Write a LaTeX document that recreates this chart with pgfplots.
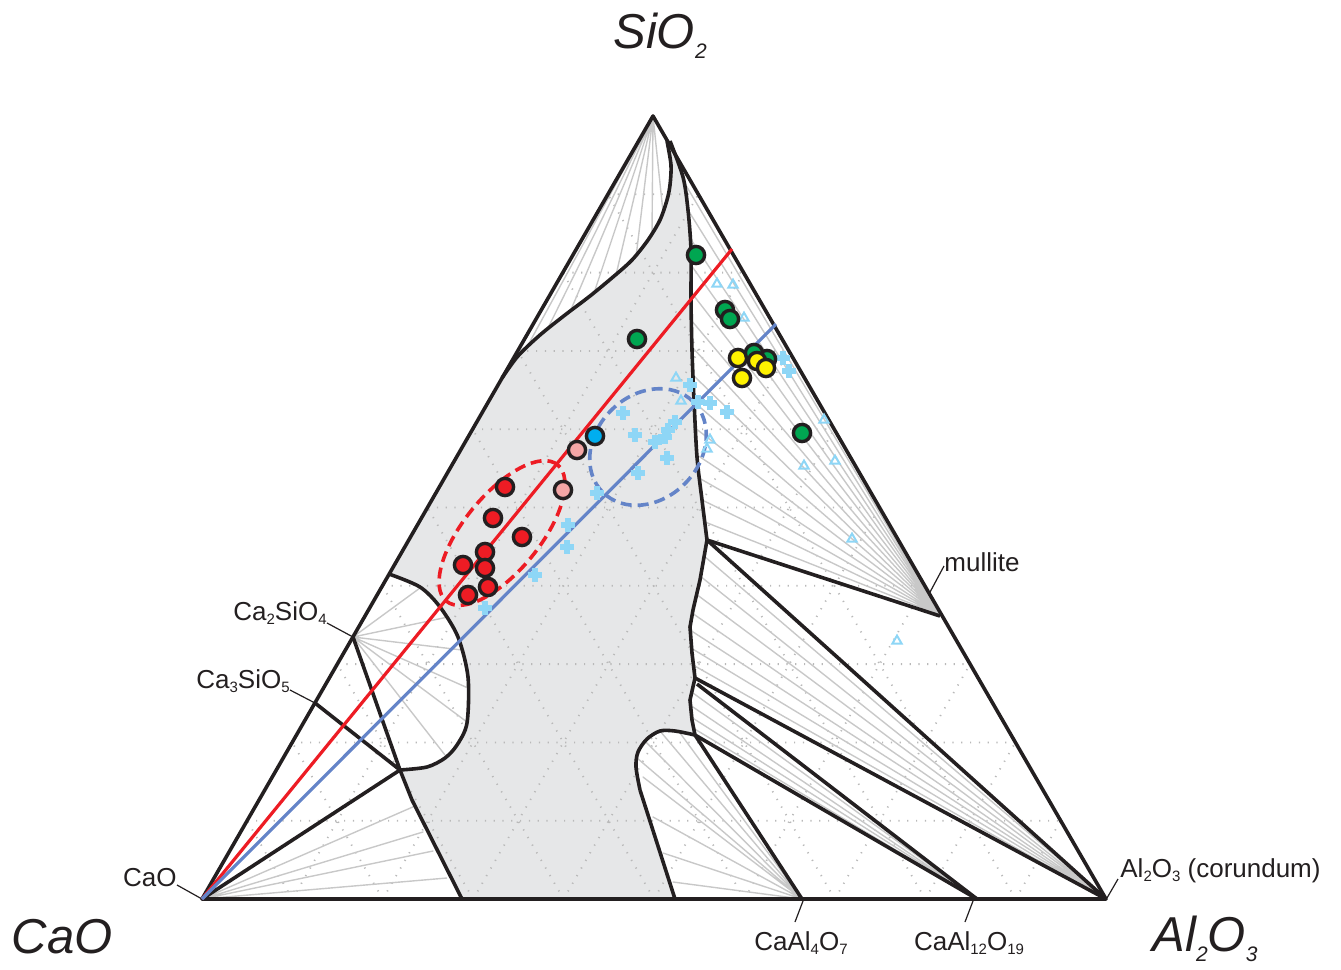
\documentclass[border=0pt]{standalone}
\usepackage{fontspec}
\setmainfont{Liberation Sans}
\usepackage{pgfplots}
\pgfplotsset{compat=1.18}
\definecolor{ink}{RGB}{35,31,32}
\definecolor{greyfill}{RGB}{230,231,232}
\definecolor{tiec}{RGB}{200,200,200}
\definecolor{gridc}{RGB}{185,185,185}
\definecolor{redc}{RGB}{237,28,36}
\definecolor{bluec}{RGB}{100,132,200}
\definecolor{pinkc}{RGB}{244,166,166}
\definecolor{cyanc}{RGB}{0,174,239}
\definecolor{greenc}{RGB}{0,166,81}
\definecolor{yellowc}{RGB}{255,242,0}
\definecolor{ltblue}{RGB}{142,214,246}
\newcommand{\ssub}[1]{\raisebox{-2pt}{\fontsize{7.5}{8}\selectfont #1}}
\newcommand{\bsub}[1]{\raisebox{-5pt}{\fontsize{10.5}{10}\selectfont #1}}
\pgfplotsset{blk/.style={ink, line width=1.8pt, line join=round}}
\begin{document}
\begin{tikzpicture}
\begin{axis}[scale only axis, width=670.5pt, height=485pt,
  xmin=0, xmax=1341, ymin=0, ymax=970, y dir=reverse,
  hide axis, clip=false, unbounded coords=jump]
\addplot[draw=none, forget plot] coordinates {(0,0) (1341,970)};
% liquid field (grey)
\addplot[fill=greyfill, draw=none] coordinates {
(667,141) (671,165) (670,185) (667,200) (660,220) (648,240) (632,260) (613,277) (590,296) (565,315) (540,335) (518,356) (502,378)
(389,574) (420,587) (440,607) (458,637) (468,677) (467,723) (457,745) (445,758) (427,767) (400,770)
(412,800) (462,899) (675,899)
(640,790) (636,767) (638,752) (647,739) (660,731) (675,731) (695,735)
(692,720) (690,700) (695,678) (692,653) (690,627) (693,610) (700,580) (707,540)
(702,500) (697,457) (694,400) (692,350) (691,300) (691,250) (688,210) (683,177) (670,141)};
% dotted grid
\addplot[gridc, line width=0.9pt, dash pattern=on 0.6pt off 3.8pt] coordinates {
(247.2,820.7) (1060.8,820.7) (nan,nan) (292.4,742.4) (1015.6,742.4) (nan,nan)
(337.6,664.1) (970.4,664.1) (nan,nan) (382.8,585.8) (925.2,585.8) (nan,nan)
(428,507.5) (880,507.5) (nan,nan) (473.2,429.2) (834.8,429.2) (nan,nan)
(518.4,350.9) (789.6,350.9) (nan,nan) (563.6,272.6) (744.4,272.6) (nan,nan)
(608.8,194.3) (699.2,194.3) (nan,nan)
(292.4,899) (698.3,194.3) (nan,nan) (382.8,899) (743.6,272.6) (nan,nan)
(473.2,899) (788.9,350.9) (nan,nan) (563.6,899) (834.2,429.2) (nan,nan)
(654,899) (879.5,507.5) (nan,nan) (744.4,899) (924.8,585.8) (nan,nan)
(834.8,899) (970.1,664.1) (nan,nan) (925.2,899) (1015.4,742.4) (nan,nan)
(1015.6,899) (1060.7,820.7) (nan,nan)
(1015.6,899) (607.9,194.3) (nan,nan) (925.2,899) (562.8,272.6) (nan,nan)
(834.8,899) (517.7,350.9) (nan,nan) (744.4,899) (472.6,429.2) (nan,nan)
(654,899) (427.5,507.5) (nan,nan) (563.6,899) (382.4,585.8) (nan,nan)
(473.2,899) (337.3,664.1) (nan,nan) (382.8,899) (292.2,742.4) (nan,nan)
(292.4,899) (247.1,820.7)};
% tie lines
\addplot[tiec, line width=0.7pt, line join=round] coordinates {
(653,116) (510,366) (653,116) (527,347) (653,116) (547,330) (653,116) (570,312)
(653,116) (594,293) (653,116) (616,275) (653,116) (636,257) (653,116) (652,236) (653,116) (663,212)};
\addplot[tiec, line width=0.7pt, line join=round] coordinates {
(353,637) (420,588) (353,637) (448,617) (353,637) (462,650) (353,637) (468,688) (353,637) (467,722) (353,637) (445,755)};
\addplot[tiec, line width=0.7pt, line join=round] coordinates {
(202,899) (415,806) (202,899) (423,832) (202,899) (433,851) (202,899) (447,878)};
\addplot[tiec, line width=0.7pt, line join=round] coordinates {
(940,615) (684,182) (940,615) (688,210) (940,615) (690,238) (940,615) (691,265) (940,615) (691,292)
(940,615) (691,320) (940,615) (692,347) (940,615) (693,375) (940,615) (694,402) (940,615) (695,428)
(940,615) (697,455) (940,615) (699,478) (940,615) (702,500) (940,615) (705,522)};
\addplot[tiec, line width=0.7pt, line join=round] coordinates {
(1106,899) (704,556) (1106,899) (700,576) (1106,899) (696,594) (1106,899) (692,613)
(1106,899) (690,630) (1106,899) (691,648) (1106,899) (693,665)};
\addplot[tiec, line width=0.7pt, line join=round] coordinates {
(977,899) (693,693) (977,899) (690,705) (977,899) (691,717) (977,899) (693,728)};
\addplot[tiec, line width=0.7pt, line join=round] coordinates {
(802,899) (673,882) (802,899) (663,853) (802,899) (653,817) (802,899) (643,777)
(802,899) (637,758) (802,899) (645,741) (802,899) (660,731) (802,899) (680,733)};
% black phase boundaries
\addplot[blk] coordinates {(202,899) (1106,899) (653,116) (202,899) (1106,899)};
\addplot[blk, smooth] coordinates {
(667,141) (671,165) (670,185) (667,200) (660,220) (648,240) (632,260) (613,277) (590,296) (565,315) (540,335) (518,356) (502,378)};
\addplot[blk, smooth] coordinates {
(670,141) (683,177) (688,210) (691,250) (691,300) (692,350) (694,400) (697,457) (702,500) (707,540)};
\addplot[blk] coordinates {
(707,540) (700,580) (693,610) (690,627) (692,653) (695,678) (690,700) (692,720) (695,735)};
\addplot[blk, smooth] coordinates {
(695,735) (675,731) (660,731) (647,739) (638,752) (636,767) (640,790)};
\addplot[blk] coordinates {(640,790) (675,899)};
\addplot[blk, smooth] coordinates {
(389,574) (420,587) (440,607) (458,637) (468,677) (467,723) (457,745) (445,758) (427,767) (400,770)};
\addplot[blk] coordinates {(400,770) (412,800) (462,899)};
\addplot[blk] coordinates {(707,540) (940,616)};
\addplot[blk] coordinates {(707,540) (1106,899)};
\addplot[blk] coordinates {(695,678) (1106,899)};
\addplot[blk] coordinates {(697,684) (977,899)};
\addplot[blk] coordinates {(695,735) (977,899)};
\addplot[blk] coordinates {(695,735) (802,899)};
\addplot[blk] coordinates {(353,637) (400,770)};
\addplot[blk] coordinates {(315,703) (400,770)};
\addplot[blk] coordinates {(400,770) (202,899)};
% leaders
\addplot[ink, line width=0.6pt] coordinates {(327,623) (353,637)};
\addplot[ink, line width=0.6pt] coordinates {(290,690) (315,703)};
\addplot[ink, line width=0.6pt] coordinates {(177,885) (202,899)};
\addplot[ink, line width=0.6pt] coordinates {(944,566) (929,594)};
\addplot[ink, line width=0.6pt] coordinates {(1118,879) (1107,898)};
\addplot[ink, line width=0.6pt] coordinates {(795,922) (803,901)};
\addplot[ink, line width=0.6pt] coordinates {(965,922) (973,901)};
% trend lines
\addplot[redc, line width=1.6pt] coordinates {(202,899) (732,249)};
\addplot[bluec, line width=1.6pt] coordinates {(202,899) (776,324)};
% ellipses
\draw[redc, line width=1.8pt, dash pattern=on 5.5pt off 3pt, rotate around={50.8:(axis cs:502,533)}]
  (axis cs:502,533) ellipse [x radius=44pt, y radius=19pt];
\draw[bluec, line width=1.8pt, dash pattern=on 5.5pt off 3pt, rotate around={45:(axis cs:648,447)}]
  (axis cs:648,447) ellipse [x radius=32pt, y radius=26pt];
% light blue triangles
\addplot[only marks, mark=triangle, mark size=2.7pt, mark options={draw=ltblue, line width=1pt}] coordinates {
(717,284) (733,285) (744,318) (676,378) (681,401) (710,440) (707,449) (824,420) (835,461) (804,466) (852,539) (897,641)};
% light blue crosses
\addplot[only marks, mark=+, mark size=3.3pt, mark options={draw=ltblue, line width=2.9pt}] coordinates {
(623,413) (690,385) (698,402) (710,403) (727,412) (783,358) (789,371) (635,435) (655,442) (665,437) (668,430) (675,422)
(667,458) (638,473) (597,493) (568,525) (567,547) (535,575) (485,608)};
% data circles
\pgfplotsset{dot/.style={only marks, mark=*, mark size=4.3pt, mark options={fill=#1, draw=ink, line width=1.7pt}}}
\addplot[dot=redc] coordinates {
(505,487) (493,518) (522,537) (485,552) (463,565) (485,568) (488,587) (468,595)};
\addplot[dot=pinkc] coordinates {(577,450) (563,490)};
\addplot[dot=cyanc] coordinates {(595,436)};
\addplot[dot=greenc] coordinates {(696,255) (637,339) (725,310) (730,319) (767,359) (802,433)};
\addplot[dot=yellowc] coordinates {(738,358)};
\addplot[dot=greenc] coordinates {(754,353)};
\addplot[dot=yellowc] coordinates {(757,361) (766,368) (742,378)};
% labels
\node[anchor=base, font=\fontsize{24.5}{29}\selectfont\itshape, text=ink, inner sep=0pt] at (axis cs:660,48) {SiO\bsub{2}};
\node[anchor=base, font=\fontsize{24.5}{29}\selectfont\itshape, text=ink, inner sep=0pt] at (axis cs:62,953) {CaO};
\node[anchor=base, font=\fontsize{24.5}{29}\selectfont\itshape, text=ink, inner sep=0pt] at (axis cs:1205,951) {Al\bsub{2}O\bsub{3}};
\node[anchor=base east, font=\fontsize{13}{15}\selectfont, text=ink, inner sep=0pt] at (axis cs:327,620) {Ca\ssub{2}SiO\ssub{4}};
\node[anchor=base east, font=\fontsize{13}{15}\selectfont, text=ink, inner sep=0pt] at (axis cs:290,688) {Ca\ssub{3}SiO\ssub{5}};
\node[anchor=base east, font=\fontsize{13}{15}\selectfont, text=ink, inner sep=0pt] at (axis cs:177,886) {CaO};
\node[anchor=base west, font=\fontsize{13}{15}\selectfont, text=ink, inner sep=0pt] at (axis cs:944,571) {mullite};
\node[anchor=base west, font=\fontsize{13}{15}\selectfont, text=ink, inner sep=0pt] at (axis cs:1120,877) {Al\ssub{2}O\ssub{3} (corundum)};
\node[anchor=base, font=\fontsize{13}{15}\selectfont, text=ink, inner sep=0pt] at (axis cs:801,950) {CaAl\ssub{4}O\ssub{7}};
\node[anchor=base, font=\fontsize{13}{15}\selectfont, text=ink, inner sep=0pt] at (axis cs:969,950) {CaAl\ssub{12}O\ssub{19}};
\end{axis}
\end{tikzpicture}
\end{document}
